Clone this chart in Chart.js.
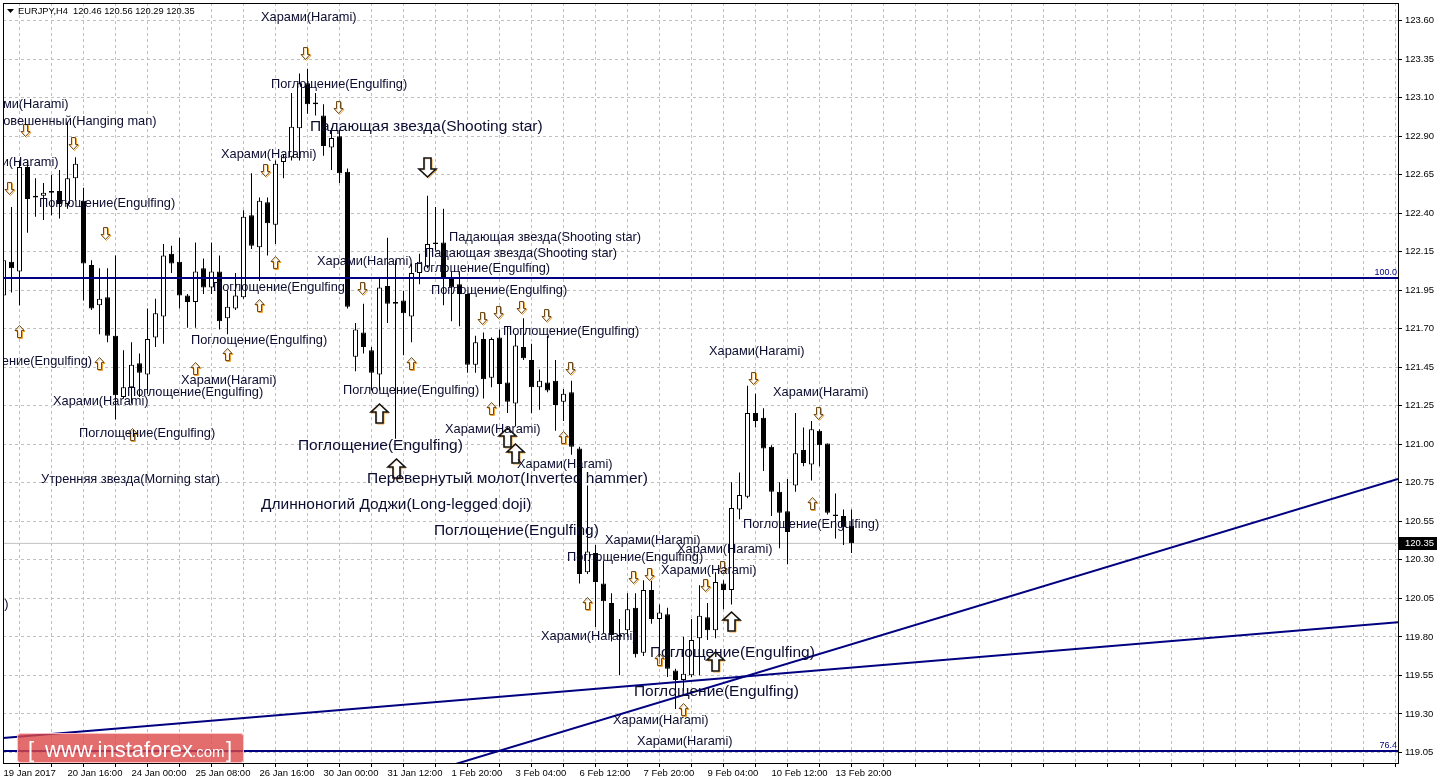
<!DOCTYPE html>
<html>
<head>
<meta charset="utf-8">
<script src="https://cdn.jsdelivr.net/npm/chart.js@4.4.1/dist/chart.umd.min.js"></script>
<style>
  html, body { margin: 0; padding: 0; background: #fff; overflow: hidden; }
  #wrap { width: 1439px; height: 783px; }
</style>
</head>
<body>
<div id="wrap"><canvas id="chart" width="1439" height="783"></canvas></div>
<script>
// EURJPY H4 candles, one entry per bar
const opens = [121.89,122.10,122.04,122.69,122.50,122.51,122.53,122.54,122.46,122.62,
  122.48,122.08,121.83,121.88,121.64,121.26,121.32,121.47,121.40,121.63,
  121.76,122.15,122.10,121.89,121.85,122.06,121.94,122.04,121.75,121.81,
  121.88,122.39,122.19,122.47,122.33,122.72,122.75,122.93,123.21,123.09,
  123.01,122.81,122.88,122.66,121.51,121.66,121.55,121.40,121.95,121.85,
  121.86,121.76,122.03,122.07,122.22,122.22,122.00,121.96,121.90,121.46,
  121.62,121.38,121.63,121.35,121.22,121.57,121.49,121.32,121.35,121.36,
  121.23,121.29,120.94,120.17,120.29,120.10,119.98,119.77,119.81,119.95,
  119.67,120.06,119.88,119.91,119.56,119.50,119.53,119.76,119.89,119.81,
  120.10,120.06,120.56,120.64,121.16,121.13,120.95,120.67,120.55,120.71,
  120.93,120.84,121.05,120.97,120.53,120.52,120.46];
const highs = [122.34,122.44,122.73,122.73,122.62,122.59,122.64,122.67,122.97,122.75,
  122.56,122.11,122.06,122.06,122.14,121.55,121.60,121.53,121.81,121.87,
  122.21,122.20,122.25,121.90,122.22,122.12,122.22,122.14,121.92,122.03,
  122.42,122.65,122.50,122.50,122.73,122.77,123.15,123.27,123.30,123.15,
  123.08,122.93,122.92,122.68,121.72,121.84,121.57,122.00,122.25,122.11,
  121.92,122.09,122.15,122.51,122.44,122.43,122.04,122.04,121.90,121.64,
  121.66,121.63,121.68,121.70,121.65,121.75,121.59,121.43,121.64,121.49,
  121.31,121.36,120.95,120.71,120.34,120.24,120.04,119.88,120.04,120.04,
  120.12,120.12,119.97,119.95,119.57,119.77,119.88,120.09,119.98,120.17,
  120.12,120.73,120.79,121.33,121.28,121.19,120.96,120.73,120.75,121.16,
  121.07,121.11,121.06,120.97,120.66,120.56,120.56];
const lows = [121.82,121.91,121.83,122.28,122.38,122.36,122.39,122.37,122.43,122.48,
  121.86,121.80,121.65,121.60,121.12,121.25,121.22,121.26,121.28,121.57,
  121.59,122.03,121.81,121.69,121.69,121.90,121.90,121.68,121.65,121.80,
  121.87,122.18,121.98,122.14,122.21,122.62,122.73,122.73,123.02,123.01,
  122.76,122.67,122.59,121.81,121.42,121.53,121.30,121.30,121.72,121.00,
  121.52,121.60,121.96,122.06,122.17,121.83,121.73,121.70,121.41,121.41,
  121.25,121.32,121.20,121.16,121.08,121.49,121.16,121.18,121.29,121.05,
  121.11,120.90,120.10,120.16,119.83,119.79,119.74,119.53,119.77,119.64,
  119.65,119.85,119.60,119.52,119.32,119.43,119.52,119.53,119.75,119.76,
  119.94,119.97,120.50,120.63,121.07,120.80,120.52,120.32,120.22,120.67,
  120.83,120.74,120.83,120.53,120.38,120.34,120.29];
const closes = [122.11,122.06,122.69,122.49,122.51,122.53,122.54,122.46,122.62,122.71,
  122.09,121.81,121.87,121.64,121.27,121.32,121.46,121.41,121.62,121.78,
  122.14,122.09,121.89,121.85,122.04,121.94,122.04,121.73,121.82,121.89,
  122.38,122.20,122.48,122.34,122.71,122.75,122.94,123.21,123.08,123.08,
  122.82,122.87,122.65,121.82,121.68,121.57,121.41,121.94,121.84,121.84,
  121.78,122.03,122.10,122.21,122.21,122.00,121.94,121.90,121.46,121.60,
  121.37,121.62,121.34,121.23,121.58,121.50,121.32,121.36,121.30,121.21,
  121.28,120.95,120.16,120.30,120.11,119.99,119.78,119.78,119.94,119.66,
  120.06,119.88,119.92,119.57,119.50,119.54,119.75,119.90,119.81,120.11,
  120.06,120.57,120.65,121.16,121.11,120.94,120.67,120.54,120.42,120.91,
  120.85,121.06,120.96,120.54,120.52,120.45,120.35];

const xTickLabels = ["19 Jan 2017", "20 Jan 16:00", "24 Jan 00:00", "25 Jan 08:00",
  "26 Jan 16:00", "30 Jan 00:00", "31 Jan 12:00", "1 Feb 20:00", "3 Feb 04:00",
  "6 Feb 12:00", "7 Feb 20:00", "9 Feb 04:00", "10 Feb 12:00", "13 Feb 20:00"];
const yTickLabels = ["123.60", "123.35", "123.10", "122.90", "122.65", "122.40",
  "122.15", "121.95", "121.70", "121.45", "121.25", "121.00", "120.75", "120.55",
  "120.30", "120.05", "119.80", "119.55", "119.30", "119.05"];

const lastPrice = 120.35;
const fibLevels = [[122.00, "100.0"], [119.06, "76.4"]];
const trendSteep = [[40, 118.73], [174.31, 120.75]];
const trendFlat = [[-0.06, 119.14], [174.31, 119.86]];

// pattern names: [text, bar, price]
const smallNotes = [
  ["Харами(Harami)", 32.19, 123.62],
  ["Поглощение(Engulfing)", 33.44, 123.20],
  ["Харами(Harami)", -3.81, 123.08],
  ["Повешенный(Hanging man)", -1.19, 122.97],
  ["Харами(Harami)", -5.06, 122.72],
  ["Поглощение(Engulfing)", 4.44, 122.46],
  ["Харами(Harami)", 27.19, 122.77],
  ["Падающая звезда(Shooting star)", 55.69, 122.25],
  ["Падающая звезда(Shooting star)", 52.69, 122.15],
  ["Поглощение(Engulfing)", 51.31, 122.06],
  ["Харами(Harami)", 39.19, 122.10],
  ["Поглощение(Engulfing)", 26.19, 121.94],
  ["Поглощение(Engulfing)", 53.44, 121.92],
  ["Поглощение(Engulfing)", 62.44, 121.67],
  ["Поглощение(Engulfing)", 23.44, 121.61],
  ["Поглощение(Engulfing)", -5.94, 121.48],
  ["Харами(Harami)", 22.19, 121.36],
  ["Поглощение(Engulfing)", 15.44, 121.29],
  ["Поглощение(Engulfing)", 42.44, 121.30],
  ["Харами(Harami)", 6.19, 121.23],
  ["Харами(Harami)", 55.19, 121.06],
  ["Поглощение(Engulfing)", 9.44, 121.03],
  ["Харами(Harami)", 64.19, 120.84],
  ["Утренняя звезда(Morning star)", 4.69, 120.75],
  ["Харами(Harami)", 88.19, 121.54],
  ["Харами(Harami)", 96.19, 121.29],
  ["Поглощение(Engulfing)", 92.44, 120.47],
  ["Харами(Harami)", 75.19, 120.37],
  ["Поглощение(Engulfing)", 70.44, 120.26],
  ["Харами(Harami)", 84.19, 120.31],
  ["Харами(Harami)", 82.19, 120.18],
  ["Харами(Harami)", 67.19, 119.77],
  ["Харами(Harami)", 76.19, 119.25],
  ["Харами(Harami)", 79.19, 119.12],
  ["Харами(Harami)", -11.31, 119.97]
];
const largeNotes = [
  ["Падающая звезда(Shooting star)", 38.31, 122.94],
  ["Поглощение(Engulfing)", 36.81, 120.96],
  ["Перевернутый молот(Inverted hammer)", 45.44, 120.75],
  ["Длинноногий Доджи(Long-legged doji)", 32.19, 120.59],
  ["Поглощение(Engulfing)", 53.81, 120.43],
  ["Поглощение(Engulfing)", 80.81, 119.67],
  ["Поглощение(Engulfing)", 78.81, 119.43]
];

// signal arrows: [bar, price]
const downMarks = [[37.69, 123.40], [41.81, 123.06], [2.69, 122.92], [8.69, 122.84],
  [0.69, 122.56], [32.69, 122.67], [12.69, 122.28], [44.81, 121.94], [59.81, 121.75],
  [61.81, 121.79], [64.69, 121.82], [67.81, 121.77], [70.81, 121.44], [78.69, 120.14],
  [80.69, 120.16], [87.69, 120.09], [89.81, 120.20], [93.69, 121.38], [101.81, 121.16]];
const upMarks = [[1.94, 121.67], [11.94, 121.47], [33.94, 122.10], [31.94, 121.83],
  [27.94, 121.53], [23.94, 121.44], [16.06, 121.03], [50.94, 121.47], [60.94, 121.19],
  [69.94, 121.01], [72.94, 119.98], [81.94, 119.63], [84.94, 119.32], [101.06, 120.60]];
const bigDownMarks = [[52.94, 122.69]];
const bigUpMarks = [[46.94, 121.16], [49.06, 120.82], [62.94, 121.01], [63.94, 120.91],
  [90.94, 119.87], [88.94, 119.62]];

const xMin = -0.0625;
const xMax = 174.3125;
const yMin = 118.9847;
const yMax = 123.7088;
const yStep = (123.60 - 119.05) / 19;

const labelFont = '"Liberation Sans", Arial, sans-serif';
const noteColor = "#0c0c30";
const fibColor = "#000080";

function arrowPath(ctx, cx, cy, w, h, sw, hh, up) {
  const s = up ? -1 : 1;
  const top = cy - s * h / 2;
  const neck = top + s * (h - hh);
  ctx.beginPath();
  ctx.moveTo(cx - sw / 2, top);
  ctx.lineTo(cx + sw / 2, top);
  ctx.lineTo(cx + sw / 2, neck);
  ctx.lineTo(cx + w / 2, neck);
  ctx.lineTo(cx, top + s * h);
  ctx.lineTo(cx - w / 2, neck);
  ctx.lineTo(cx - sw / 2, neck);
  ctx.closePath();
}

function drawArrow(ctx, cx, cy, up, big) {
  const w = big ? 17 : 9, h = big ? 19 : 12, sw = big ? 7 : 4, hh = big ? 8 : 5;
  cx = Math.round(cx) + 0.5;
  cy = Math.round(cy) + 0.5;
  // orange shade on the lower right, dark outline on top
  arrowPath(ctx, cx + 1, cy + 1, w, h, sw, hh, up);
  ctx.lineWidth = 1;
  ctx.strokeStyle = "#f0a030";
  ctx.stroke();
  arrowPath(ctx, cx, cy, w, h, sw, hh, up);
  ctx.fillStyle = "rgba(255,255,255,0.6)";
  ctx.fill();
  ctx.lineWidth = big ? 1.6 : 1;
  ctx.strokeStyle = big ? "#111" : "#6b4a1a";
  ctx.stroke();
}

const overlay = {
  id: "overlay",
  afterDatasetsDraw(chart) {
    const { ctx, chartArea: a, scales: { x, y } } = chart;
    ctx.save();
    ctx.beginPath();
    ctx.rect(a.left, a.top, a.right - a.left, a.bottom - a.top);
    ctx.clip();

    downMarks.forEach(([b, p]) => drawArrow(ctx, x.getPixelForValue(b), y.getPixelForValue(p), false, false));
    upMarks.forEach(([b, p]) => drawArrow(ctx, x.getPixelForValue(b), y.getPixelForValue(p), true, false));
    bigDownMarks.forEach(([b, p]) => drawArrow(ctx, x.getPixelForValue(b), y.getPixelForValue(p), false, true));
    bigUpMarks.forEach(([b, p]) => drawArrow(ctx, x.getPixelForValue(b), y.getPixelForValue(p), true, true));

    ctx.fillStyle = noteColor;
    ctx.textAlign = "left";
    ctx.textBaseline = "middle";
    ctx.font = "12.8px " + labelFont;
    smallNotes.forEach(([t, b, p]) => ctx.fillText(t, x.getPixelForValue(b), y.getPixelForValue(p)));
    ctx.font = "15.5px " + labelFont;
    largeNotes.forEach(([t, b, p]) => ctx.fillText(t, x.getPixelForValue(b), y.getPixelForValue(p)));
    ctx.restore();
  },
  afterDraw(chart) {
    const { ctx, chartArea: a, scales: { y } } = chart;
    ctx.save();

    // frame
    ctx.strokeStyle = "#000";
    ctx.lineWidth = 1;
    ctx.strokeRect(a.left + 0.5, a.top + 0.5, a.right - a.left, a.bottom - a.top);

    // fibo level captions
    ctx.font = "9px " + labelFont;
    ctx.fillStyle = fibColor;
    ctx.textAlign = "right";
    ctx.textBaseline = "bottom";
    fibLevels.forEach(([p, t]) => ctx.fillText(t, a.right - 1, y.getPixelForValue(p) - 1));

    // header
    ctx.fillStyle = "#000";
    ctx.beginPath();
    ctx.moveTo(7, 9);
    ctx.lineTo(14, 9);
    ctx.lineTo(10.5, 13);
    ctx.closePath();
    ctx.fill();
    ctx.font = "9.3px " + labelFont;
    ctx.textAlign = "left";
    ctx.textBaseline = "middle";
    ctx.fillText("EURJPY,H4  " + [opens[106], highs[106], lows[106], closes[106]].map(v => v.toFixed(2)).join(" "), 18, 11);

    // last price box
    const py = Math.round(y.getPixelForValue(lastPrice));
    ctx.fillStyle = "#000";
    ctx.fillRect(a.right + 1, py - 6, 38, 13);
    ctx.fillStyle = "#fff";
    ctx.font = "9.5px " + labelFont;
    ctx.fillText(lastPrice.toFixed(2), a.right + 7, py + 0.5);

    // watermark
    ctx.beginPath();
    ctx.roundRect(17.5, 733.5, 226, 29, 3);
    ctx.fillStyle = "rgba(220, 72, 72, 0.8)";
    ctx.fill();
    ctx.strokeStyle = "rgba(255, 200, 200, 0.9)";
    ctx.stroke();
    ctx.fillStyle = "#fff";
    ctx.textBaseline = "alphabetic";
    ctx.font = "22px " + labelFont;
    ctx.fillText("[", 28, 757);
    ctx.fillText("www.instaforex", 45, 757);
    ctx.font = "15px " + labelFont;
    ctx.fillText(".com", 192, 757);
    ctx.font = "22px " + labelFont;
    ctx.fillText("]", 226, 757);
    ctx.restore();
  }
};

Chart.defaults.font.family = labelFont;

const lineSet = (pts, color, width, order) => ({
  type: "line",
  data: pts.map(([b, p]) => ({ x: b, y: p })),
  borderColor: color,
  borderWidth: width,
  pointRadius: 0,
  fill: false,
  order: order
});

new Chart(document.getElementById("chart"), {
  type: "bar",
  data: {
    datasets: [
      lineSet([[xMin, lastPrice], [xMax, lastPrice]], "#c0c0c0", 1, 9),
      lineSet([[xMin, fibLevels[0][0]], [xMax, fibLevels[0][0]]], fibColor, 2, 0),
      lineSet([[xMin, fibLevels[1][0]], [xMax, fibLevels[1][0]]], fibColor, 2, 0),
      lineSet(trendSteep, fibColor, 2, 0),
      lineSet(trendFlat, fibColor, 2, 0),
      {
        label: "wicks",
        data: opens.map((o, i) => ({ x: i, y: [lows[i], highs[i]] })),
        backgroundColor: "#000",
        borderWidth: 0,
        barThickness: 1,
        inflateAmount: 0,
        grouped: false,
        order: 3
      },
      {
        label: "bodies",
        data: opens.map((o, i) => ({ x: i, y: [o, closes[i]] })),
        backgroundColor: opens.map((o, i) => (closes[i] > o ? "#fff" : "#000")),
        borderColor: "#000",
        borderWidth: 1,
        borderSkipped: false,
        barThickness: 5,
        inflateAmount: 0,
        grouped: false,
        order: 2
      }
    ]
  },
  options: {
    responsive: false,
    devicePixelRatio: 1,
    animation: false,
    events: [],
    layout: { padding: { left: 3, top: 3, right: 0, bottom: 0 } },
    plugins: { legend: { display: false }, tooltip: { enabled: false } },
    scales: {
      x: {
        type: "linear",
        min: xMin,
        max: xMax,
        offset: false,
        grid: { color: "#c0c0c0", tickColor: "#000", tickLength: 4, tickBorderDash: [] },
        border: { color: "#000", width: 1, dash: [3, 3] },
        ticks: {
          autoSkip: false,
          maxRotation: 0,
          align: "start",
          padding: 1,
          color: "#000",
          font: { size: 9.5 },
          callback: v => (v % 8 === 0 ? xTickLabels[v / 8] || "" : "")
        },
        afterBuildTicks: s => {
          const t = [];
          for (let v = 0; v <= 172; v += 4) t.push({ value: v });
          s.ticks = t;
        },
        afterFit: s => {
          s.height = 20;
          s.paddingLeft = 0;
          s.paddingRight = 0;
        }
      },
      y: {
        type: "linear",
        position: "right",
        min: yMin,
        max: yMax,
        grid: { color: "#c0c0c0", tickColor: "#000", tickLength: 4, tickBorderDash: [] },
        border: { color: "#000", width: 1, dash: [3, 3] },
        ticks: {
          padding: 3,
          color: "#000",
          font: { size: 9.5 },
          callback: (v, i) => yTickLabels[i]
        },
        afterBuildTicks: s => {
          s.ticks = yTickLabels.map((t, k) => ({ value: 123.60 - k * yStep }));
        },
        afterFit: s => {
          s.width = 41;
          s.paddingTop = 0;
          s.paddingBottom = 0;
        }
      }
    }
  },
  plugins: [overlay]
});
</script>
</body>
</html>
